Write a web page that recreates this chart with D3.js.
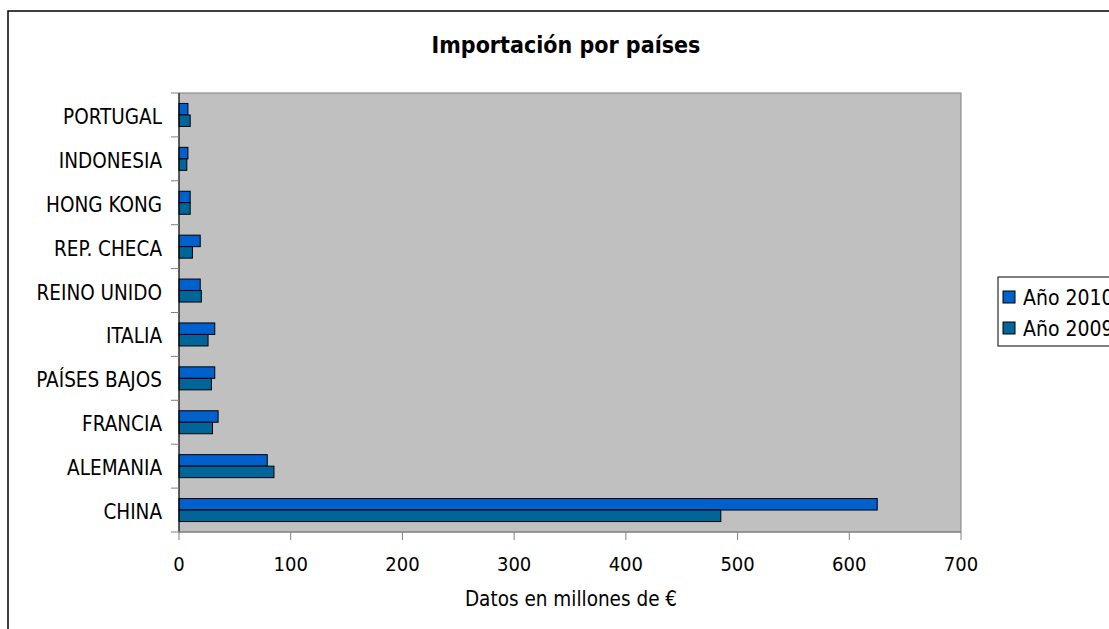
<!DOCTYPE html>
<html>
<head>
<meta charset="utf-8">
<script src="https://cdn.jsdelivr.net/npm/d3@7"></script>
<style>
  body { margin: 0; background: #fff; }
  svg { display: block; font-family: "DejaVu Sans Condensed", "DejaVu Sans", sans-serif; }
</style>
</head>
<body>
<div id="chart"></div>
<script>
// datos (millones de euros)
var paises = ["CHINA", "ALEMANIA", "FRANCIA", "PAÍSES BAJOS", "ITALIA",
              "REINO UNIDO", "REP. CHECA", "HONG KONG", "INDONESIA", "PORTUGAL"];
var anio2010 = [625, 79, 35, 32, 32, 19, 19, 10, 8, 8];
var anio2009 = [485, 85, 30, 29, 26, 20, 12, 10, 7, 10];
var series = ["Año 2010", "Año 2009"];
var ticksX = [0, 100, 200, 300, 400, 500, 600, 700];

var width = 1109, height = 629;
var margin = { left: 179, right: 148, top: 93, bottom: 97 };

var svg = d3.select("#chart").append("svg")
    .attr("width", width)
    .attr("height", height);

// marco exterior
svg.append("rect")
    .attr("x", 8).attr("y", 11)
    .attr("width", width + 10).attr("height", height + 10)
    .attr("fill", "none").attr("stroke", "#000").attr("stroke-width", 1.5);

var x = d3.scaleLinear().domain([0, 700]).range([margin.left, width - margin.right]);
// CHINA abajo, PORTUGAL arriba
var y = d3.scaleBand().domain(paises).range([height - margin.bottom, margin.top]);

var colores = d3.scaleOrdinal().domain(series).range(["#0060CC", "#006699"]);

// fondo del area de trazado
svg.append("rect")
    .attr("x", x(0)).attr("y", margin.top)
    .attr("width", x(700) - x(0)).attr("height", height - margin.bottom - margin.top)
    .attr("fill", "#C0C0C0").attr("stroke", "#808080").attr("stroke-width", 1);

svg.append("text")
    .attr("x", 566).attr("y", 53)
    .attr("text-anchor", "middle")
    .style("font-size", "23px").style("font-weight", "bold")
    .text("Importación por países");

var barH = 11.5;
var datos = paises.map(function(p, i) {
  return { pais: p, valores: [anio2010[i], anio2009[i]] };
});

var grupos = svg.append("g").selectAll("g")
    .data(datos)
    .enter().append("g")
    .attr("transform", function(d) { return "translate(0," + (y(d.pais) + y.bandwidth() / 2) + ")"; });

grupos.selectAll("rect")
    .data(function(d) { return d.valores.map(function(v, j) { return { v: v, s: series[j], j: j }; }); })
    .enter().append("rect")
    .attr("x", x(0))
    .attr("y", function(d) { return d.j == 0 ? -barH : 0; })
    .attr("width", function(d) { return x(d.v) - x(0); })
    .attr("height", barH)
    .attr("fill", function(d) { return colores(d.s); })
    .attr("stroke", "#000")
    .attr("stroke-width", 1);

// eje y
var ejeY = svg.append("g").attr("transform", "translate(" + x(0) + ",0)");
ejeY.append("line")
    .attr("y1", margin.top).attr("y2", height - margin.bottom)
    .attr("stroke", "#000");
ejeY.selectAll("line.tick")
    .data(d3.range(paises.length + 1))
    .enter().append("line")
    .attr("class", "tick")
    .attr("x1", -8).attr("x2", 0)
    .attr("y1", function(i) { return margin.top + i * y.step(); })
    .attr("y2", function(i) { return margin.top + i * y.step(); })
    .attr("stroke", "#808080");
ejeY.selectAll("text")
    .data(paises)
    .enter().append("text")
    .attr("x", -17)
    .attr("y", function(d) { return y(d) + y.bandwidth() / 2 + 9; })
    .attr("text-anchor", "end")
    .style("font-size", "20.5px")
    .text(function(d) { return d; });

// eje x
var ejeX = svg.append("g").attr("transform", "translate(0," + (height - margin.bottom) + ")");
ejeX.append("line")
    .attr("x1", x(0)).attr("x2", x(700))
    .attr("stroke", "#808080");
ejeX.selectAll("line.tick")
    .data(ticksX)
    .enter().append("line")
    .attr("class", "tick")
    .attr("x1", x).attr("x2", x)
    .attr("y1", 0).attr("y2", 8)
    .attr("stroke", "#808080");
ejeX.selectAll("text")
    .data(ticksX)
    .enter().append("text")
    .attr("x", x)
    .attr("y", 39)
    .attr("text-anchor", "middle")
    .style("font-size", "20px")
    .text(function(d) { return d; });

svg.append("text")
    .attr("x", 571).attr("y", 606)
    .attr("text-anchor", "middle")
    .style("font-size", "20.5px")
    .text("Datos en millones de €");

// leyenda
var leyenda = svg.append("g").attr("transform", "translate(998,277)");
leyenda.append("rect")
    .attr("width", 130).attr("height", 69)
    .attr("fill", "#fff").attr("stroke", "#000");
var items = leyenda.selectAll("g.item")
    .data(series)
    .enter().append("g")
    .attr("class", "item")
    .attr("transform", function(d, i) { return "translate(5," + (20 + i * 31) + ")"; });
items.append("rect")
    .attr("x", 0).attr("y", -6)
    .attr("width", 12).attr("height", 12)
    .attr("fill", function(d) { return colores(d); })
    .attr("stroke", "#000");
items.append("text")
    .attr("x", 20)
    .attr("y", 7.5)
    .style("font-size", "21px")
    .text(function(d) { return d; });
</script>
</body>
</html>
